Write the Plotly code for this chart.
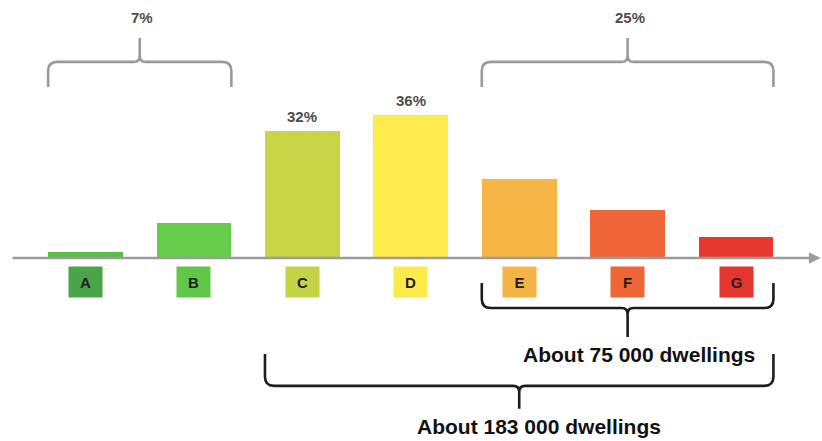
import plotly.graph_objects as go

# Energy classes and their share of dwellings (%)
classes = ["A", "B", "C", "D", "E", "F", "G"]
shares = [1.6, 8.8, 32, 36, 20, 12, 5.3]
value_labels = ["", "", "32%", "36%", "", "", ""]
bar_colors = ["#5cbc48", "#67cb4b", "#c7d547", "#fdeb4c", "#f5b646", "#ef6537", "#e9382f"]
box_colors = ["#4aa549", "#62c649", "#c3d345", "#fce94a", "#f5b445", "#ee6536", "#e5352f"]

# Grouped totals: (label, first class index, last class index)
top_groups = [("7%", 0, 1), ("25%", 4, 6)]
bottom_groups = [("About 75 000 dwellings", 4, 6), ("About 183 000 dwellings", 2, 6)]

W, H = 822, 441
XR = [-0.789, 6.793]
YR = [-46.1, 65.0]
BAR_W = 0.69
XPPU = W / (XR[1] - XR[0])
YPPU = H / (YR[1] - YR[0])

x_pos = list(range(len(classes)))

fig = go.Figure()
fig.add_trace(go.Bar(
    x=x_pos, y=shares, width=BAR_W,
    marker=dict(color=bar_colors, line=dict(width=0)),
    hoverinfo="skip", showlegend=False,
))


def brace(x0, x1, y_end, y_bar, y_tip, r_px=9, tip_r_px=6):
    """Curly brace path in data units; tip points toward y_tip."""
    xm = (x0 + x1) / 2
    d = 1 if y_tip > y_bar else -1
    rx, ry = r_px / XPPU, r_px / YPPU
    tx, ty = tip_r_px / XPPU, tip_r_px / YPPU
    p = [
        f"M {x0},{y_end}",
        f"L {x0},{y_bar - d * ry}",
        f"Q {x0},{y_bar} {x0 + rx},{y_bar}",
        f"L {xm - tx},{y_bar}",
        f"Q {xm},{y_bar} {xm},{y_bar + d * ty}",
        f"L {xm},{y_tip}",
        f"M {xm},{y_bar + d * ty}",
        f"Q {xm},{y_bar} {xm + tx},{y_bar}",
        f"L {x1 - rx},{y_bar}",
        f"Q {x1},{y_bar} {x1},{y_bar - d * ry}",
        f"L {x1},{y_end}",
    ]
    return " ".join(p)


shapes = []
annotations = []

# baseline with arrow
annotations.append(dict(
    x=6.78, y=0, ax=-0.687, ay=0, axref="x", ayref="y", xref="x", yref="y",
    text="", showarrow=True, arrowhead=2, arrowsize=0.9, arrowwidth=2.6,
    arrowcolor="#9c9c9c", standoff=0, startstandoff=0,
))

# value labels over bars
for xi, v, t in zip(x_pos, shares, value_labels):
    if t:
        annotations.append(dict(
            x=xi, y=v, xref="x", yref="y", text=f"<b>{t}</b>", showarrow=False,
            yanchor="bottom", yshift=4,
            font=dict(family="Liberation Sans, Arial", size=15, color="#4d4d4d"),
        ))

# class label boxes below the baseline
for xi, c, col in zip(x_pos, classes, box_colors):
    annotations.append(dict(
        x=xi, y=-6.05, xref="x", yref="y", text=f"<b>{c}</b>", showarrow=False,
        width=33, height=30, bgcolor=col, borderpad=0, yanchor="middle",
        font=dict(family="Liberation Sans, Arial", size=15, color="#1e1e1e"),
    ))

# upper grey braces with group shares
for label, i0, i1 in top_groups:
    x0 = x_pos[i0] - BAR_W / 2
    x1 = x_pos[i1] + BAR_W / 2
    shapes.append(dict(
        type="path", xref="x", yref="y", path=brace(x0, x1, 43.1, 49.4, 55.4),
        line=dict(color="#9a9a9a", width=2.6),
    ))
    annotations.append(dict(
        x=(x_pos[i0] + x_pos[i1]) / 2, y=60.5, xref="x", yref="y", xshift=2,
        text=f"<b>{label}</b>", showarrow=False, yanchor="middle",
        font=dict(family="Liberation Sans, Arial", size=15, color="#4d4d4d"),
    ))

# lower black braces with dwelling counts
lower_levels = [(-6.3, -12.6, -19.9, -24.3, 11), (-24.2, -32.2, -38.0, -42.4, 20)]
for (label, i0, i1), (ye, yb, yt, yl, xs) in zip(bottom_groups, lower_levels):
    x0 = x_pos[i0] - BAR_W / 2
    x1 = x_pos[i1] + BAR_W / 2
    shapes.append(dict(
        type="path", xref="x", yref="y", path=brace(x0, x1, ye, yb, yt),
        line=dict(color="#1c1c1c", width=2.6),
    ))
    annotations.append(dict(
        x=(x0 + x1) / 2, y=yl, xref="x", yref="y", xshift=xs,
        text=f"<b>{label}</b>", showarrow=False, yanchor="middle",
        font=dict(family="Liberation Sans, Arial", size=21, color="#111111"),
    ))

fig.update_layout(
    width=W, height=H,
    margin=dict(l=0, r=0, t=0, b=0),
    paper_bgcolor="white", plot_bgcolor="white",
    xaxis=dict(range=XR, visible=False, fixedrange=True),
    yaxis=dict(range=YR, visible=False, fixedrange=True),
    shapes=shapes, annotations=annotations,
    bargap=0,
)

fig.write_html("out.html")
